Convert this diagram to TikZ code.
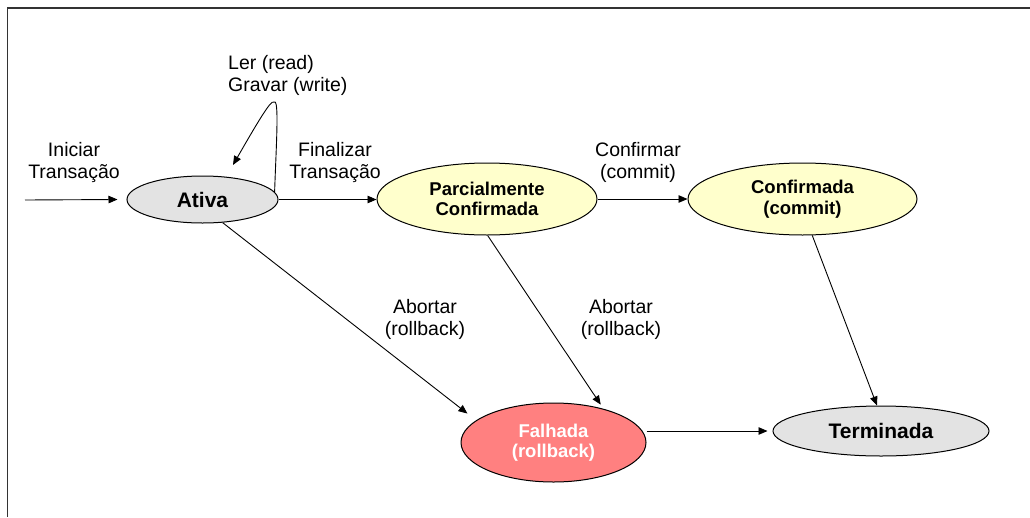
\documentclass[tikz,border=0pt]{standalone}
\usepackage{fontspec}
\setmainfont{Liberation Sans}
\usetikzlibrary{shapes.geometric,arrows.meta}
\definecolor{stgray}{RGB}{227,227,227}
\definecolor{styellow}{RGB}{255,255,204}
\definecolor{stred}{RGB}{255,128,128}
\begin{document}
\begin{tikzpicture}[x=1pt,y=-1pt,
  state/.style={ellipse,draw=black,line width=1pt,inner sep=0pt,align=center,
    font=\bfseries\fontsize{18.5}{20.5}\selectfont},
  bigstate/.style={state,font=\bfseries\fontsize{21}{24}\selectfont},
  lbl/.style={inner sep=0pt,anchor=north,align=center,font=\fontsize{19.5}{22}\selectfont},
  arr/.style={-{Triangle[length=9pt,width=7.5pt]},line width=0.9pt},
  frame/.style={line width=1.5pt,draw=black!80}
  ]
\useasboundingbox (0,0) rectangle (1030,517);
\fill[white] (0,0) rectangle (1030,517);
\draw[frame] (7.5,517) -- (7.5,8) -- (1030,8);

% states
\node[bigstate, fill=stgray, minimum width=151pt, minimum height=47pt] (ativa) at (202.5,199.5) {Ativa};
\node[state, fill=styellow, minimum width=220pt, minimum height=72pt] (parc) at (487,199) {Parcialmente\\Confirmada};
\node[state, fill=styellow, minimum width=229pt, minimum height=72pt] (conf) at (802.5,199) {Confirmada\\(commit)};
\node[state, fill=stred, text=white, minimum width=185pt, minimum height=79pt] (fal) at (553.5,442.5) {Falhada\\(rollback)};
\node[bigstate, fill=stgray, minimum width=216pt, minimum height=50pt] (term) at (881,431) {Terminada};

% labels
\node[lbl] (lini) at (74,142.5) {Iniciar\\Transação};
\node[lbl, anchor=north west, align=left] (lrw) at (228,55.5) {Ler (read)\\Gravar (write)};
\node[lbl] (lfin) at (335,142.5) {Finalizar\\Transação};
\node[lbl] (lconf) at (638,142.5) {Confirmar\\(commit)};
\node[lbl] (lab1) at (425,299) {Abortar\\(rollback)};
\node[lbl] (lab2) at (621,299) {Abortar\\(rollback)};

% connectors
\coordinate (start) at (25,200);
\coordinate (loopend) at (233,165);
\draw[arr] (start) -- ([xshift=-9pt]ativa.west);
\draw[arr] (ativa.east) -- (ativa.east -| parc.west);
\draw[arr] (parc.east) -- (conf.west);
\draw[arr] (conf.-75) -- (term.99);
\draw[arr, shorten >=5pt] (parc.-89) -- (fal.34);
\draw[arr, shorten >=11pt] (ativa.-49) -- (fal.164);
\draw[arr, shorten >=5pt] (fal.east |- term.west) -- (term.west);
\draw[arr] (ativa.6) .. controls (276,150) and (279,104) .. (275,102)
  .. controls (272,100) and (268,104) .. (loopend);
\end{tikzpicture}
\end{document}
